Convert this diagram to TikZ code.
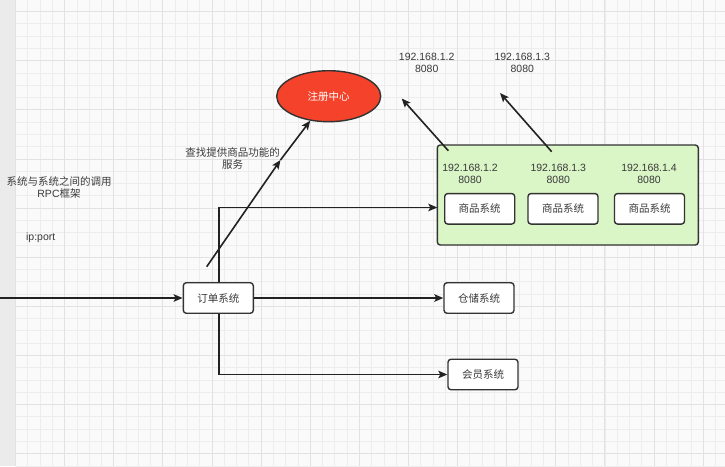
\documentclass[tikz,border=0pt]{standalone}
\usepackage{fontspec}
\setmainfont{Liberation Sans}
\newfontfamily\cjk{Noto Sans CJK SC}
\usetikzlibrary{arrows.meta,shapes.geometric}
\definecolor{bgc}{HTML}{FAFAFA}
\definecolor{stripc}{HTML}{EBEBEB}
\definecolor{minorc}{HTML}{EDEDED}
\definecolor{majorc}{HTML}{E2E2E2}
\definecolor{linec}{HTML}{222222}
\definecolor{boxc}{HTML}{333333}
\definecolor{txtc}{HTML}{3A3A3A}
\definecolor{regc}{HTML}{F4432A}
\definecolor{greenc}{HTML}{DAF5C6}
\tikzset{
  arr/.style={draw=linec,line width=1.6pt,-{Stealth[length=9pt,width=7.5pt,inset=2pt]}},
  sysbox/.style={draw=boxc,line width=1.4pt,rounded corners=3pt,fill=white,minimum width=70pt,minimum height=30.5pt,inner sep=0pt,font=\cjk\fontsize{10.5}{12}\selectfont,text=txtc},
  lbl/.style={align=center,text=txtc,font=\fontsize{10.5}{12.6}\selectfont,inner sep=0pt},
}
\begin{document}
\begin{tikzpicture}[x=1pt,y=-1pt]
\useasboundingbox (0,0) rectangle (725,466);
\fill[bgc] (0,0) rectangle (725,466);
\fill[stripc] (0,0) rectangle (16,466);
% grid
\foreach \i in {0,...,58}{
  \pgfmathsetmacro{\gx}{15.5+12.28*\i}
  \draw[minorc,line width=0.8pt] (\gx,0) -- (\gx,466);
}
\foreach \j in {0,...,37}{
  \pgfmathsetmacro{\gy}{11.6+12.28*\j}
  \draw[minorc,line width=0.8pt] (16,\gy) -- (725,\gy);
}
\foreach \i in {0,4,...,56}{
  \pgfmathsetmacro{\gx}{15.5+12.28*\i}
  \draw[majorc,line width=0.9pt] (\gx,0) -- (\gx,466);
}
\foreach \j in {0,4,...,36}{
  \pgfmathsetmacro{\gy}{11.6+12.28*\j}
  \draw[majorc,line width=0.9pt] (16,\gy) -- (725,\gy);
}

% green container
\node[draw=boxc,line width=1.4pt,rounded corners=3pt,fill=greenc,minimum width=261pt,minimum height=100pt,inner sep=0pt] (grp) at (567.8,195) {};
\node[sysbox] (g1) at (479.7,208.8) {商品系统};
\node[sysbox] (g2) at (563,208.8) {商品系统};
\node[sysbox] (g3) at (649.5,208.8) {商品系统};
\node[lbl] (ip1) at (470,173.7) {192.168.1.2\\8080};
\node[lbl] (ip2) at (558.3,173.7) {192.168.1.3\\8080};
\node[lbl] (ip3) at (649,173.7) {192.168.1.4\\8080};

% top labels
\node[lbl] (t1) at (426.7,63) {192.168.1.2\\8080};
\node[lbl] (t2) at (522.3,63) {192.168.1.3\\8080};

% registry
\node[ellipse,draw=boxc,line width=1.4pt,fill=regc,minimum width=104pt,minimum height=51pt,inner sep=0pt,text=white,font=\cjk\fontsize{10.5}{12}\selectfont] (reg) at (328.7,96.2) {注册中心};

% systems
\node[sysbox] (order) at (218.3,298) {订单系统};
\node[sysbox] (store) at (479,298) {仓储系统};
\node[sysbox] (member) at (483,374.5) {会员系统};

% texts
\node[lbl,font=\cjk\fontsize{10.5}{12.6}\selectfont] (find) at (232.5,158.5) {查找提供商品功能的\\服务};
\node[lbl] (rpc) at (59,187.3) {{\cjk 系统与系统之间的调用}\\RPC{\cjk 框架}};
\node[lbl] (ipport) at (40.7,237.5) {ip:port};

% coordinates
\coordinate (in) at (0,298);
\coordinate (s) at (206.7,266.7);
\coordinate (m) at (280.5,160);
\coordinate (a1s) at (448.3,150.7);
\coordinate (a1e) at (401.7,98.5);
\coordinate (a2s) at (551.7,151.7);
\coordinate (a2e) at (500,93);
\coordinate (gin) at (437.3,207.5);

% connectors
\draw[arr] (in) -- (order.west);
\draw[arr] (order.east) -- (store.west);
\draw[arr] ([xshift=0.7pt]order.south) |- (member.west);
\draw[arr] ([xshift=0.7pt]order.north) |- (gin);
\draw[arr] (s) -- (m);
\draw[arr] (m) -- (reg.233);
\draw[arr] (a1s) -- (a1e);
\draw[arr] (a2s) -- (a2e);
\end{tikzpicture}
\end{document}
